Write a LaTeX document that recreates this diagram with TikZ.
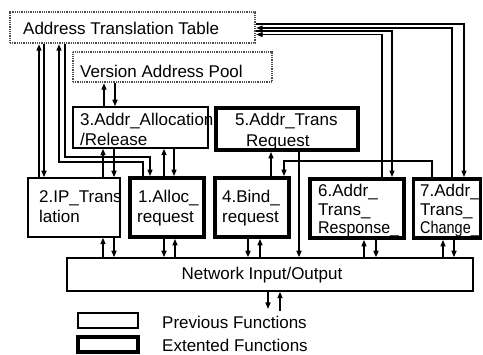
\documentclass[tikz,border=0pt]{standalone}
\usepackage{fontspec}
\setmainfont{Liberation Sans}
\usetikzlibrary{arrows.meta}
\begin{document}
\begin{tikzpicture}[x=1pt,y=-1pt,
  every node/.style={font=\fontsize{17}{20}\selectfont},
  thinbox/.style={draw, line width=1.5pt, fill=white, inner sep=0pt},
  thickbox/.style={draw, line width=3.8pt, fill=white, inner sep=0pt},
  dotbox/.style={draw=black!70, line width=2.4pt, dash pattern=on 1pt off 0.8pt, fill=white, inner sep=0pt},
  txt/.style={anchor=base west, inner sep=0pt},
  arr/.style={line width=1.4pt, -{Triangle[length=6.5pt,width=5pt]}},
  ln/.style={line width=1.4pt}]
\useasboundingbox (0,0) rectangle (483,355);

% boxes
\node[dotbox, minimum width=245, minimum height=31] (att) at (132.5,27.5) {};
\node[dotbox, minimum width=199, minimum height=30] (vap) at (172.5,67) {};
\node[thinbox, minimum width=135, minimum height=41] (b3) at (140.5,127.5) {};
\node[thickbox, minimum width=142, minimum height=42] (b5) at (287,129) {};
\node[thinbox, minimum width=92, minimum height=59] (b2) at (74,207.5) {};
\node[thickbox, minimum width=74, minimum height=59] (b1) at (167,207.5) {};
\node[thickbox, minimum width=74, minimum height=59] (b4) at (252,207.5) {};
\node[thickbox, minimum width=94, minimum height=59] (b6) at (357,208.5) {};
\node[thickbox, minimum width=67, minimum height=59] (b7) at (447,208.5) {};
\node[thinbox, minimum width=406, minimum height=33] (net) at (270,274.5) {};
\node[thinbox, minimum width=60, minimum height=15] (lg1) at (108,320.5) {};
\node[thickbox, minimum width=60, minimum height=15] (lg2) at (108,344.5) {};

% texts
\node[txt] (tatt) at (23,34.5) {Address Translation Table};
\node[txt] (tvap) at (80,78) {Version Address Pool};
\node[txt] (t3a) at (80,126) {3.Addr\_Allocation};
\node[txt] (t3b) at (80,146) {/Release};
\node[txt] (t5a) at (235,126) {5.Addr\_Trans};
\node[txt] (t5b) at (246,147) {Request};
\node[txt] (t2a) at (39,203) {2.IP\_Trans};
\node[txt] (t2b) at (39,223) {lation};
\node[txt] (t1a) at (138,203) {1.Alloc\_};
\node[txt] (t1b) at (137,223) {request};
\node[txt] (t4a) at (222,203) {4.Bind\_};
\node[txt] (t4b) at (222,223) {request};
\node[txt] (t6a) at (318,197) {6.Addr\_};
\node[txt] (t6b) at (318,216) {Trans\_};
\node[txt] (t6c) at (318,234) {\scalebox{0.94}[1]{Response\_}};
\node[txt] (t7a) at (420,197) {7.Addr\_};
\node[txt] (t7b) at (420,216) {Trans\_};
\node[txt] (t7c) at (420,234) {\scalebox{0.85}[1]{Change\_}};
\node[anchor=base, inner sep=0pt] (tnet) at (262,280) {Network Input/Output};
\node[txt] (tlg1) at (162,329) {Previous Functions};
\node[txt] (tlg2) at (162,352) {Extented Functions};

% left connectors to the table
\draw[arr] (b2.north -| 39,0) -- (att.south -| 39,0);
\draw[arr] (att.south -| 44,0) -- (b2.north -| 44,0);
\draw[arr] (b1.north -| 143,0) -- (143,162) -- (59,162) -- (att.south -| 59,0);
\draw[arr] (att.south -| 65,0) -- (65,157) -- (150,157) -- (b1.north -| 150,0);

% pool and allocation
\draw[arr] (b3.north -| 104,0) -- (vap.south -| 104,0);
\draw[arr] (vap.south -| 115,0) -- (b3.north -| 115,0);
\draw[arr] (b2.north -| 103,0) -- (b3.south -| 103,0);
\draw[arr] (b3.south -| 114,0) -- (b2.north -| 114,0);
\draw[arr] (b1.north -| 164,0) -- (b3.south -| 164,0);
\draw[arr] (b3.south -| 174,0) -- (b1.north -| 174,0);

% request / bind
\draw[arr] (b4.north -| 271,0) -- (b5.south -| 271,0);
\draw[arr] (b5.south -| 299,0) -- (net.north -| 299,0);
\draw[arr] (b7.north -| 432,0) -- (432,161) -- (284,161) -- (b4.north -| 284,0);

% right connectors to the table
\draw[arr] (att.east |- 0,24) -- (464,24) -- (b7.north -| 464,0);
\draw[arr] (b7.north -| 452,0) -- (452,28) -- (att.east |- 0,28);
\draw[arr] (att.east |- 0,31) -- (392,31) -- (b6.north -| 392,0);
\draw[arr] (b6.north -| 382,0) -- (382,34.5) -- (att.east |- 0,34.5);

% network connections
\draw[arr] (net.north -| 103,0) -- (b2.south -| 103,0);
\draw[arr] (b2.south -| 114,0) -- (net.north -| 114,0);
\draw[arr] (b1.south -| 164,0) -- (net.north -| 164,0);
\draw[arr] (net.north -| 175,0) -- (b1.south -| 175,0);
\draw[arr] (b4.south -| 248,0) -- (net.north -| 248,0);
\draw[arr] (net.north -| 260,0) -- (b4.south -| 260,0);
\draw[arr] (net.north -| 364,0) -- (b6.south -| 364,0);
\draw[arr] (b6.south -| 376,0) -- (net.north -| 376,0);
\draw[arr] (net.north -| 443,0) -- (b7.south -| 443,0);
\draw[arr] (b7.south -| 454,0) -- (net.north -| 454,0);

% external
\coordinate (outd) at (268,309);
\coordinate (outu) at (280,311);
\draw[arr] (net.south -| outd) -- (outd);
\draw[arr] (outu) -- (net.south -| outu);
\end{tikzpicture}
\end{document}
